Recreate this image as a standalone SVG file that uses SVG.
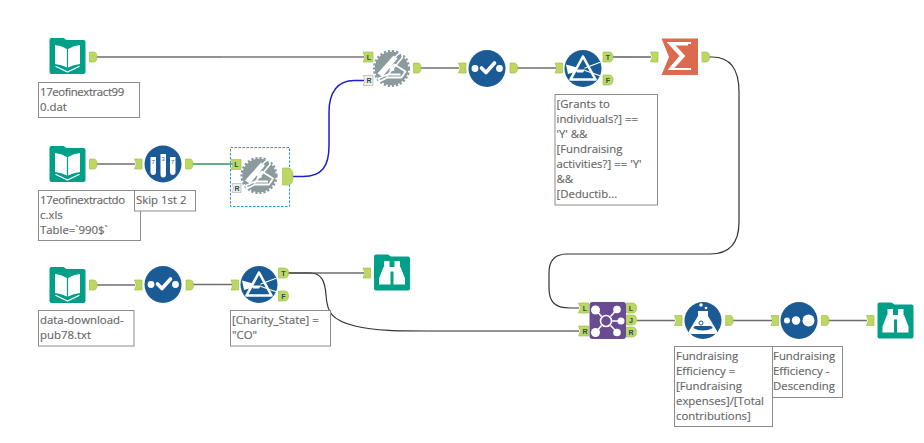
<svg xmlns="http://www.w3.org/2000/svg" width="924" height="443" viewBox="0 0 924 443">
<style>
.note{fill:#fff;stroke:#8c8c8c;stroke-width:1}
.noteline{font:11.4px "Open Sans","Noto Sans","Liberation Sans",sans-serif;fill:#666;stroke:#666;stroke-width:.15}
.tight{letter-spacing:-.38px}
.port{fill:#bcd862;stroke:#a4c04e;stroke-width:.7}
.plabel{font:bold 7px "Liberation Sans",sans-serif;fill:#1f4f55;text-anchor:middle}
.wire{fill:none;stroke:#6e6e6e;stroke-width:1.6}
.thin{fill:none;stroke:#333;stroke-width:1.2}
.blue{fill:#1b5b95}
.teal{fill:#00a088}
.ink{fill:none;stroke:#fff;stroke-linecap:round;stroke-linejoin:round}
</style>
<defs>
<!-- output anchor, origin at its left middle -->
<path id="out" class="port" d="M0-5H4Q7.500-5 7.500 0T4 5H0Z"/>
<!-- input anchor with notched left edge -->
<path id="in" class="port" d="M0-5H7.500V5H0L1.800 0Z"/>
<!-- labelled input and output anchors -->
<path id="inL" class="port" d="M0-5H10V5H0L2 0Z"/>
<path id="outL" class="port" d="M0-5H6Q10-5 10 0T6 5H0Z"/>
<g id="book">
<path class="teal" d="M2 0H14L17 2H34Q36 2 36 4V34Q36 36 34 36H2Q0 36 0 34V2Q0 0 2 0Z"/>
<path d="M17.400 11Q12 7.500 5.500 7V26Q12 26.500 17.400 29.500ZM18.600 11Q24 7.500 30.500 7V26Q24 26.500 18.600 29.500Z" fill="#fff"/>
<path class="ink" stroke-width="1.300" d="M6.500 28.500L18 34L29.500 28.500"/>
</g>
<g id="binoc">
<path class="teal" d="M2 0H14L17 2H34Q36 2 36 4V34Q36 36 34 36H2Q0 36 0 34V2Q0 0 2 0Z"/>
<g fill="#fff">
<path d="M10 6.500H15.500V12.500H16.500V30H5V24L9.500 12.500H10Z"/>
<path d="M20.500 6.500H26V12.500H26.500L31 24V30H19.500V12.500H20.500Z"/>
<path d="M16 12.500H20V17H16Z"/>
</g>
</g>
<g id="gear">
<circle r="16.700" fill="#8b9a9d"/>
<circle r="17" fill="none" stroke="#8b9a9d" stroke-width="3.200" stroke-dasharray="2.200 1.800"/>
<path d="M-14 5L2-13L6-10L-9 8Z" fill="#fff"/>
<path d="M-11 7L6-14L10-16L11-11L-5 8" fill="none" stroke="#fff" stroke-width="1.500"/>
<path d="M-2 0L3-4L14 3L10 9H-4L-12 13L-13 10L-4 6H9" fill="none" stroke="#fff" stroke-width="1.800" stroke-linejoin="round"/>
<path d="M-3 3L1-3L3 2Z" fill="#fff"/>
</g>
<g id="check">
<circle class="blue" r="18.500"/>
<circle cx="-12" r="3.400" fill="#fff"/>
<circle cx="12.500" r="3.400" fill="#fff"/>
<path class="ink" stroke-width="3.600" d="M-5.500-.5L-1 4L7.500-5.500"/>
</g>
<g id="filter">
<circle class="blue" r="18.500"/>
<path class="ink" stroke-width="2.600" d="M0-12L-12.500 11H12.500Z"/>
<path d="M-17-4L-6-1V3L-15 5.500Z" fill="#fff"/>
<path class="ink" stroke-width="1.200" d="M2-.5L16.500-6M2 2L16.500 7"/>
<path d="M-6 1H2L0 4H-6Z" fill="#fff"/>
</g>
</defs>

<g id="connectors">
<path class="wire" d="M97 57H222"/><path class="thin" d="M222 57H364"/>
<path class="wire" d="M97 164H135"/>
<path fill="none" stroke="#2f9a58" stroke-width="1.600" d="M192 164H233"/>
<path fill="none" stroke="#1d1dd6" stroke-width="1.500" d="M293 176.500H303C322 176.500 329 166 329 146V112C329 92 338 80.500 354 80.500H364"/>
<path class="wire" d="M421 68H459"/>
<path class="wire" d="M517 68H556"/>
<path class="thin" d="M613 57H633"/><path class="wire" d="M633 57H651"/>
<path class="thin" d="M709 57H712C731 57 739 70 739 92V222C739 243 730 254 710 254H567C554 254 549 261 549 273V288C549 302 555 308 570 308H579"/>
<path class="wire" d="M97 285H135"/>
<path class="wire" d="M192 284.500H232"/>
<path class="wire" d="M288 273H364"/>
<path class="thin" d="M288 273H310C322 273 325 282 326 295C327 312 331 320 355 326C375 331 400 331 430 331"/>
<path class="wire" d="M430 331H579"/>
<path class="wire" d="M637 320.500H675"/>
<path class="wire" d="M733 320.500H772"/>
<path class="wire" d="M829 320.500H867"/>
</g>

<g id="source-990">
<use href="#book" x="49.500" y="38"/>
<use href="#out" x="89.500" y="57"/>
<rect class="note" x="38.500" y="82.500" width="101" height="35"/>
<text class="noteline"><tspan class="tight" x="40" y="96">17eofinextract99</tspan><tspan x="40" y="111">0.dat</tspan></text>
</g>

<g id="source-doc">
<use href="#book" x="49.500" y="146"/>
<use href="#out" x="89.500" y="164"/>
<rect class="note" x="38.500" y="190.500" width="102" height="50"/>
<text class="noteline"><tspan class="tight" x="40" y="204">17eofinextractdo</tspan><tspan x="40" y="219">c.xls</tspan><tspan x="40" y="234">Table=`990$`</tspan></text>
</g>

<g id="sample">
<use href="#in" x="134.500" y="164"/>
<circle class="blue" cx="163" cy="164" r="18.500"/>
<g fill="#fff">
<path d="M150.500 157H156V172Q156 175 153.200 175Q150.500 175 150.500 172Z"/>
<path d="M160.500 154H166V174Q166 177.500 163.200 177.500Q160.500 177.500 160.500 174Z"/>
<path d="M170 157H175.500V172Q175.500 175 172.700 175Q170 175 170 172Z"/>
</g>
<g fill="#1b5b95" font-family="'Liberation Sans',sans-serif" font-size="6" text-anchor="middle"><text x="153.200" y="164">7</text><text x="163.200" y="161">3</text><text x="172.700" y="164">7</text></g>
<use href="#out" x="185.500" y="164"/>
<rect class="note" x="134.500" y="190.500" width="61" height="20.500"/>
<text class="noteline" x="136" y="204">Skip 1st 2</text>
</g>

<g id="join-selected">
<rect x="230.500" y="147.500" width="59" height="59" fill="none" stroke="#2a8fd8" stroke-width="1" stroke-dasharray="2.500 1.500"/>
<use href="#inL" x="231" y="164.500"/>
<text class="plabel" x="236.500" y="167">L</text>
<path d="M232 183.500H241V192.500H232L233.500 188Z" fill="#eef0e6" stroke="#aaa" stroke-width=".6"/>
<text class="plabel" x="237" y="191">R</text>
<use href="#gear" x="259" y="175.500"/>
<path class="port" d="M282.500 168H288Q293 168 293 176.500T288 185H282.500Z"/>
</g>

<g id="join-top">
<use href="#inL" x="363" y="57"/>
<text class="plabel" x="369" y="59.500">L</text>
<path d="M363 75.500H373V85.500H363L365 80.500Z" fill="#eef0e6" stroke="#aaa" stroke-width=".6"/>
<text class="plabel" x="369" y="83">R</text>
<use href="#gear" x="391.500" y="68.500"/>
<use href="#out" x="413.500" y="68"/>
</g>

<g id="select-top">
<use href="#in" x="458.500" y="68"/>
<use href="#check" x="487" y="68.500"/>
<use href="#out" x="510" y="68"/>
</g>

<g id="filter-top">
<use href="#in" x="555" y="68"/>
<use href="#filter" x="583" y="68.500"/>
<use href="#outL" x="603" y="57"/>
<text class="plabel" x="608" y="59.500">T</text>
<use href="#outL" x="603" y="80"/>
<text class="plabel" x="608" y="82.500">F</text>
<rect class="note" x="555" y="94.500" width="102.500" height="110.500"/>
<text class="noteline"><tspan x="556.500" y="108">[Grants to</tspan><tspan x="556.500" y="123">individuals?] ==</tspan><tspan x="556.500" y="138">'Y' &amp;&amp;</tspan><tspan x="556.500" y="153">[Fundraising</tspan><tspan x="556.500" y="168">activities?] == 'Y'</tspan><tspan x="556.500" y="183">&amp;&amp;</tspan><tspan x="556.500" y="198">[Deductib...</tspan></text>
</g>

<g id="summarize">
<use href="#in" x="650.500" y="57"/>
<path d="M661.500 38.500H698V75H661.500L669 57Z" fill="#dc6a4e"/>
<path d="M691 43H669L681 56L670 69H691M670 44.500H688" fill="none" stroke="#fff" stroke-width="2.200"/>
<path d="M671 43L683 56L672 68" fill="none" stroke="#fff" stroke-width="3.500"/>
<use href="#out" x="702" y="57"/>
</g>

<g id="source-pub78">
<use href="#book" x="49.500" y="267"/>
<use href="#out" x="89.500" y="285"/>
<rect class="note" x="38.500" y="310.500" width="95.500" height="35.500"/>
<text class="noteline"><tspan x="40" y="324">data-download-</tspan><tspan x="40" y="339">pub78.txt</tspan></text>
</g>

<g id="select-bottom">
<use href="#in" x="134.500" y="285"/>
<use href="#check" x="163" y="284.500"/>
<use href="#out" x="186" y="285"/>
</g>

<g id="filter-bottom">
<use href="#in" x="231" y="285"/>
<use href="#filter" x="259" y="284.500"/>
<use href="#outL" x="278.500" y="273"/>
<text class="plabel" x="283.500" y="275.500">T</text>
<use href="#outL" x="278.500" y="296"/>
<text class="plabel" x="283.500" y="298.500">F</text>
<rect class="note" x="230.500" y="310.500" width="100" height="35.500"/>
<text class="noteline"><tspan x="232" y="324">[Charity_State] =</tspan><tspan x="232" y="339">"CO"</tspan></text>
</g>

<g id="browse-co">
<use href="#in" x="363" y="273"/>
<use href="#binoc" x="374" y="254.500"/>
</g>

<g id="join-multi">
<use href="#inL" x="578.500" y="308"/>
<text class="plabel" x="585" y="310.500">L</text>
<use href="#inL" x="578.500" y="331"/>
<text class="plabel" x="585" y="333.500">R</text>
<rect x="589.500" y="302" width="36.500" height="37" rx="3" fill="#6a4a93"/>
<g fill="none" stroke="#fff" stroke-width="1.600"><circle cx="606" cy="321" r="5.500"/><path d="M601.500 316.500L596 310M610.500 316.500L617 309.500M612 321H618M601.500 325.500L596 332M610.500 325.500L617 332"/></g>
<g fill="#fff"><circle cx="595.500" cy="310" r="4.500"/><circle cx="617" cy="309.500" r="3.800"/><circle cx="621" cy="321" r="3.500"/><circle cx="595.500" cy="332.500" r="4.500"/><circle cx="617" cy="332.500" r="3.800"/></g>
<use href="#outL" x="626.500" y="308"/>
<text class="plabel" x="631" y="310.500">L</text>
<use href="#outL" x="626.500" y="320"/>
<text class="plabel" x="631" y="322.500">J</text>
<use href="#outL" x="626.500" y="332"/>
<text class="plabel" x="631" y="334.500">R</text>
</g>

<g id="formula">
<use href="#in" x="674.500" y="320.500"/>
<circle class="blue" cx="703" cy="320.500" r="18.500"/>
<path d="M698 311H708V316L717 331Q718 334 714 334H692Q688 334 689 331L698 316Z" fill="#fff"/>
<path d="M693 328Q703 333 713 328L711 326H695Z" fill="#1b5b95"/>
<circle cx="701" cy="323" r="2" fill="none" stroke="#1b5b95"/>
<circle cx="701" cy="305" r="1.800" fill="#fff"/><circle cx="706" cy="308" r="1.300" fill="#fff"/>
<use href="#out" x="725.700" y="320.500"/>
<rect class="note" x="674.500" y="346.500" width="98" height="80"/>
<text class="noteline"><tspan x="676" y="360">Fundraising</tspan><tspan x="676" y="375">Efficiency =</tspan><tspan x="676" y="390">[Fundraising</tspan><tspan x="676" y="405">expenses]/[Total</tspan><tspan x="676" y="420">contributions]</tspan></text>
</g>

<g id="sort">
<use href="#in" x="771" y="320.500"/>
<circle class="blue" cx="799" cy="320.500" r="18.500"/>
<g fill="#fff"><circle cx="787" cy="320.500" r="3"/><circle cx="796" cy="320.500" r="4.200"/><circle cx="808.500" cy="320.500" r="6"/></g>
<use href="#out" x="821.500" y="320.500"/>
<rect class="note" x="772.500" y="346.500" width="70" height="51"/>
<text class="noteline"><tspan x="773" y="360">Fundraising</tspan><tspan x="773" y="375">Efficiency -</tspan><tspan x="773" y="390">Descending</tspan></text>
</g>

<g id="browse-result">
<use href="#in" x="866.500" y="320.500"/>
<use href="#binoc" x="877.500" y="302.500"/>
</g>
</svg>
